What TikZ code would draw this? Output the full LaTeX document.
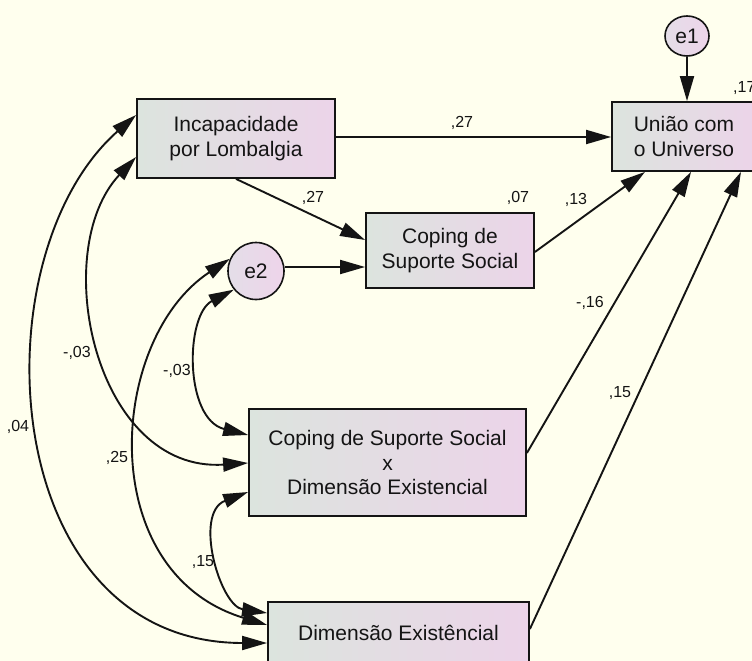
\documentclass[tikz,border=0pt]{standalone}
\usepackage{fontspec}
\setmainfont{Liberation Sans}
\usetikzlibrary{arrows.meta,shapes.geometric}
\definecolor{bg}{RGB}{255,255,238}
\definecolor{boxL}{RGB}{220,228,222}
\definecolor{boxR}{RGB}{236,212,233}
\definecolor{errL}{RGB}{228,222,232}
\definecolor{errR}{RGB}{238,212,234}
\definecolor{ink}{RGB}{20,20,20}
\begin{document}
\begin{tikzpicture}[x=1pt,y=-1pt,
  var/.style={draw=ink, line width=1.8pt, left color=boxL, right color=boxR,
    align=center, text=ink, font=\fontsize{21}{24.5}\selectfont, inner sep=0pt},
  errvar/.style={draw=ink, line width=1.6pt, ellipse, left color=errL, right color=errR,
    text=ink, font=\fontsize{21}{24}\selectfont, inner sep=0pt},
  reg/.style={line width=1.9pt, draw=ink, -{Triangle[length=25pt,width=14pt]}},
  cov/.style={line width=1.9pt, draw=ink, {Triangle[length=25pt,width=14pt]}-{Triangle[length=25pt,width=14pt]}},
  lbl/.style={font=\fontsize{16}{18}\selectfont, text=ink, inner sep=0pt}]

\useasboundingbox (0,0) rectangle (752,661);
\fill[bg] (0,0) rectangle (752,661);

% observed variables
\node[var, minimum width=198pt, minimum height=79pt] (inc) at (236,138.5) {Incapacidade\\por Lombalgia};
\node[var, minimum width=144pt, minimum height=69pt] (uni) at (684,136.5) {União com\\o Universo};
\node[var, minimum width=168pt, minimum height=75pt] (cop) at (450,250.5) {Coping de\\Suporte Social};
\node[var, minimum width=277pt, minimum height=107pt] (int) at (387.5,462.5) {Coping de Suporte Social\\x\\Dimensão Existencial};
\node[var, minimum width=261pt, minimum height=62pt] (dim) at (398.5,633) {Dimensão Existêncial};

% error terms
\node[errvar, minimum width=44pt, minimum height=40pt] (e1) at (687,36) {e1};
\node[errvar, minimum width=56pt, minimum height=57pt] (e2) at (256,271) {e2};

% regression paths
\draw[reg] (inc.east |- 0,137) -- (uni.west |- 0,137);
\draw[reg] (inc.south) -- (cop.west |- 0,240);
\draw[reg] (e2.east |- 0,267) -- (cop.west |- 0,267);
\draw[reg] (cop.east |- 0,252) -- (uni.south -| 645,0);
\draw[reg] (int.east |- 0,453) -- (uni.south -| 691,0);
\draw[reg] (dim.east |- 0,629) -- (uni.south -| 741,0);
\draw[reg] (e1.south) -- (uni.north -| e1.south);

% covariances
\draw[cov] (inc.west |- 0,115) .. controls (-24,256) and (-4,643) .. (dim.west |- 0,643);
\draw[cov] (inc.west |- 0,157) .. controls (48,251) and (95,473) .. (int.west |- 0,463);
\draw[cov] (e2.220) .. controls (185,315) and (184,419) .. (int.west |- 0,435);
\draw[cov] (e2.155) .. controls (108,339) and (93,572) .. (dim.west |- 0,625);
\draw[cov] (int.west |- 0,492) .. controls (193,513) and (220,606) .. (dim.west |- 0,613);

% estimates
\node[lbl] (l1) at (462,123) {,27};
\node[lbl] (l2) at (313,198) {,27};
\node[lbl] (l3) at (518,198) {,07};
\node[lbl] (l4) at (576,200) {,13};
\node[lbl, anchor=west] (l5) at (733,88) {,17};
\node[lbl] (l6) at (590,303) {-,16};
\node[lbl] (l7) at (620,393) {,15};
\node[lbl] (l8) at (77,353) {-,03};
\node[lbl] (l9) at (177,371) {-,03};
\node[lbl] (l10) at (18,427) {,04};
\node[lbl] (l11) at (117,458) {,25};
\node[lbl] (l12) at (203,562) {,15};
\end{tikzpicture}
\end{document}
